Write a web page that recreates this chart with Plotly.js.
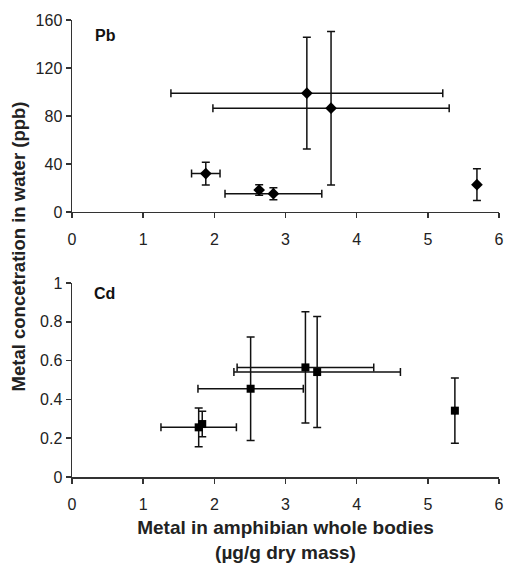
<!DOCTYPE html>
<html>
<head>
<meta charset="utf-8">
<script src="https://cdn.plot.ly/plotly-3.0.1.min.js"></script>
<style>html,body{margin:0;padding:0;background:#fff;}#chart{width:508px;height:564px;}</style>
</head>
<body>
<div id="chart"></div>
<script>
// Pb panel
const pbX = [1.88, 2.63, 2.83, 3.30, 3.64, 5.69];
const pbY = [32, 18.3, 15.2, 99, 86.5, 22.7];
const pbXErr = [0.20, 0, 0.68, 1.91, 1.66, 0];
const pbYErr = [9.5, 4.3, 5, 46.6, 64, 13.2];

// Cd panel
const cdX = [1.78, 1.83, 2.51, 3.28, 3.445, 5.38];
const cdY = [0.256, 0.273, 0.455, 0.565, 0.541, 0.342];
const cdXErr = [0.53, 0, 0.74, 0.96, 1.17, 0];
const cdYErr = [0.10, 0.066, 0.267, 0.287, 0.286, 0.168];

const xTicks = [0, 1, 2, 3, 4, 5, 6];
const pbTicks = [0, 40, 80, 120, 160];
const cdTicks = [0, 0.2, 0.4, 0.6, 0.8, 1];

const fam = 'Liberation Sans, Arial, sans-serif';
const tickFont = {family: fam, size: 16, color: '#222'};
const errStyle = {color: '#111', thickness: 1.5, width: 4};

const traces = [
  {
    x: pbX, y: pbY, type: 'scatter', mode: 'markers', xaxis: 'x', yaxis: 'y',
    marker: {symbol: 'diamond', size: 9, color: '#000'},
    error_x: Object.assign({type: 'data', array: pbXErr, visible: true}, errStyle),
    error_y: Object.assign({type: 'data', array: pbYErr, visible: true}, errStyle),
    showlegend: false
  },
  {
    x: cdX, y: cdY, type: 'scatter', mode: 'markers', xaxis: 'x2', yaxis: 'y2',
    marker: {symbol: 'square', size: 8, color: '#000'},
    error_x: Object.assign({type: 'data', array: cdXErr, visible: true}, errStyle),
    error_y: Object.assign({type: 'data', array: cdYErr, visible: true}, errStyle),
    showlegend: false
  }
];

const axisCommon = {
  showgrid: false, zeroline: false, showline: true, linecolor: '#333', linewidth: 1.5,
  ticks: 'outside', ticklen: 5, tickcolor: '#333', tickwidth: 1.5, tickfont: tickFont
};

const layout = {
  width: 508, height: 564,
  margin: {l: 72, r: 9, t: 20, b: 87},
  paper_bgcolor: '#fff', plot_bgcolor: '#fff',
  font: tickFont,
  xaxis: Object.assign({}, axisCommon, {domain: [0, 1], range: [0, 6], tickvals: xTicks, anchor: 'y', ticklabelstandoff: 7}),
  yaxis: Object.assign({}, axisCommon, {domain: [0.58, 1], range: [0, 160], tickvals: pbTicks, anchor: 'x'}),
  xaxis2: Object.assign({}, axisCommon, {domain: [0, 1], range: [0, 6], tickvals: xTicks, anchor: 'y2', ticklabelstandoff: 7,
    title: {text: '<b>Metal in amphibian whole bodies<br>(µg/g dry mass)</b>', font: {family: fam, size: 19, color: '#222'}, standoff: 9}}),
  yaxis2: Object.assign({}, axisCommon, {domain: [0, 0.4245], range: [0, 1], tickvals: cdTicks, anchor: 'x2'}),
  annotations: [
    {text: '<b>Pb</b>', xref: 'paper', yref: 'paper', x: 0.05, y: 0.965, xanchor: 'left', yanchor: 'middle', showarrow: false, font: {family: fam, size: 16, color: '#111'}},
    {text: '<b>Cd</b>', xref: 'paper', yref: 'paper', x: 0.047, y: 0.401, xanchor: 'left', yanchor: 'middle', showarrow: false, font: {family: fam, size: 16, color: '#111'}},
    {text: '<b>Metal concetration in water (ppb)</b>', xref: 'paper', yref: 'paper', x: -0.126, y: 0.505, xanchor: 'center', yanchor: 'middle', textangle: -90, showarrow: false, font: {family: fam, size: 18.5, color: '#222'}}
  ]
};

Plotly.newPlot('chart', traces, layout, {displayModeBar: false, staticPlot: true});
</script>
</body>
</html>
